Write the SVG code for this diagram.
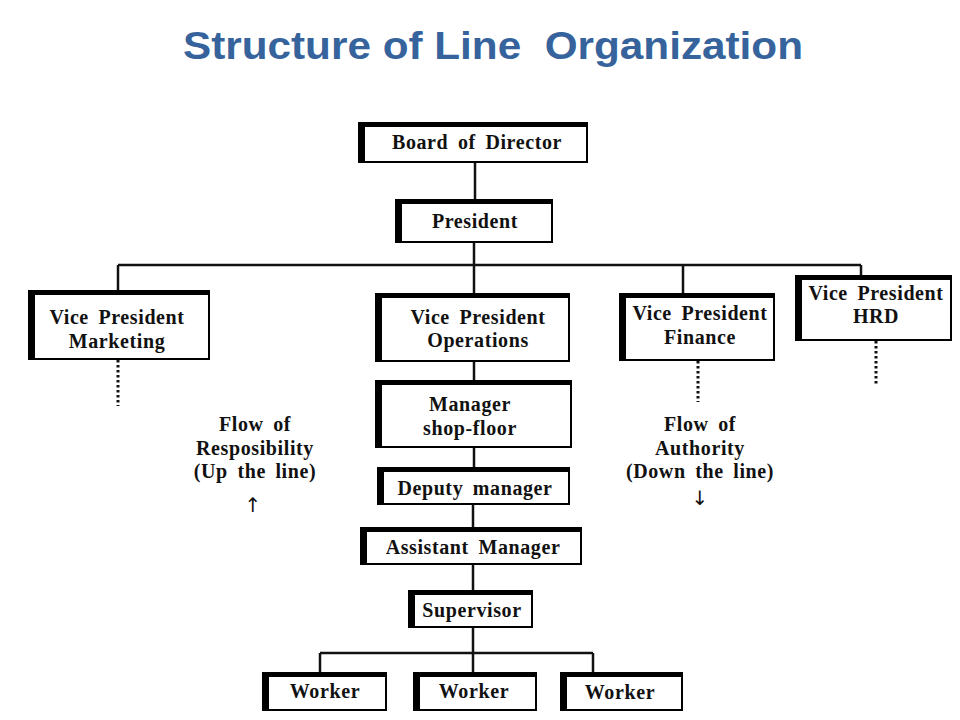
<svg xmlns="http://www.w3.org/2000/svg" width="960" height="720" viewBox="0 0 960 720">
<style>
.title{font-family:"Liberation Sans",Arial,sans-serif;font-weight:bold;font-size:38px;fill:#36639c;white-space:pre}
.lbl{font-family:"Liberation Serif","Times New Roman",serif;font-weight:bold;font-size:20px;fill:#111;text-anchor:middle;word-spacing:4px;letter-spacing:0.6px}
.arr{font-family:"DejaVu Sans",sans-serif;font-size:20px;fill:#111;text-anchor:middle}
.edge{fill:#000}
.in{fill:#fff}
.ln{stroke:#111;stroke-width:2.5;fill:none}
.dot{stroke:#111;stroke-width:3;fill:none;stroke-dasharray:2.5 2.5}
</style>
<rect width="960" height="720" fill="#fff"/>
<text class="title" x="183" y="59" textLength="620" lengthAdjust="spacingAndGlyphs" xml:space="preserve">Structure of Line  Organization</text>
<g id="connectors">
<path class="ln" d="M475 163V199M474 243V265M118 265H861M118 265V290M474 265V293M683 265V293M861 265V280M474 362V380M474 448V467M473 505V527M473 565V590M473 628V653M320 653H593M320 653V672M473 653V672M593 653V672"/>
<path class="dot" d="M118 360V406M698 361V402M876 341V386"/>
</g>
<g id="board"><rect class="edge" x="358" y="122" width="230" height="41"/><rect class="in" x="365" y="127" width="221" height="34"/><text class="lbl" x="477" y="149">Board of Director</text></g>
<g id="president"><rect class="edge" x="395" y="199" width="158" height="44"/><rect class="in" x="402" y="204" width="149" height="37"/><text class="lbl" x="475" y="228">President</text></g>
<g id="vp-marketing"><rect class="edge" x="28" y="290" width="182" height="70"/><rect class="in" x="35" y="295" width="173" height="63"/><text class="lbl" x="117" y="324">Vice President</text><text class="lbl" x="117" y="348">Marketing</text></g>
<g id="vp-operations"><rect class="edge" x="375" y="293" width="195" height="69"/><rect class="in" x="382" y="298" width="186" height="62"/><text class="lbl" x="478" y="324">Vice President</text><text class="lbl" x="478" y="347">Operations</text></g>
<g id="vp-finance"><rect class="edge" x="619" y="293" width="156" height="68"/><rect class="in" x="626" y="298" width="147" height="61"/><text class="lbl" x="700" y="320">Vice President</text><text class="lbl" x="700" y="344">Finance</text></g>
<g id="vp-hrd"><rect class="edge" x="795" y="275" width="157" height="66"/><rect class="in" x="802" y="280" width="148" height="59"/><text class="lbl" x="876" y="300">Vice President</text><text class="lbl" x="876" y="323">HRD</text></g>
<g id="manager"><rect class="edge" x="375" y="380" width="197" height="68"/><rect class="in" x="382" y="385" width="188" height="61"/><text class="lbl" x="470" y="411">Manager</text><text class="lbl" x="470" y="435">shop-floor</text></g>
<g id="deputy"><rect class="edge" x="377" y="467" width="193" height="38"/><rect class="in" x="384" y="472" width="184" height="31"/><text class="lbl" x="475" y="495">Deputy manager</text></g>
<g id="assistant"><rect class="edge" x="360" y="527" width="222" height="38"/><rect class="in" x="367" y="532" width="213" height="31"/><text class="lbl" x="473" y="554">Assistant Manager</text></g>
<g id="supervisor"><rect class="edge" x="408" y="590" width="125" height="38"/><rect class="in" x="415" y="595" width="116" height="31"/><text class="lbl" x="472" y="617">Supervisor</text></g>
<g id="worker1"><rect class="edge" x="262" y="672" width="125" height="39"/><rect class="in" x="269" y="677" width="116" height="32"/><text class="lbl" x="325" y="698">Worker</text></g>
<g id="worker2"><rect class="edge" x="413" y="672" width="124" height="39"/><rect class="in" x="420" y="677" width="115" height="32"/><text class="lbl" x="474" y="698">Worker</text></g>
<g id="worker3"><rect class="edge" x="560" y="672" width="123" height="39"/><rect class="in" x="567" y="677" width="114" height="32"/><text class="lbl" x="620" y="699">Worker</text></g>
<g id="flow-responsibility"><text class="lbl" x="255" y="431">Flow of</text><text class="lbl" x="255" y="455">Resposibility</text><text class="lbl" x="255" y="478">(Up the line)</text><text class="arr" x="253" y="512">↑</text></g>
<g id="flow-authority"><text class="lbl" x="700" y="431">Flow of</text><text class="lbl" x="700" y="455">Authority</text><text class="lbl" x="700" y="478">(Down the line)</text><text class="arr" x="700" y="505">↓</text></g>
</svg>
